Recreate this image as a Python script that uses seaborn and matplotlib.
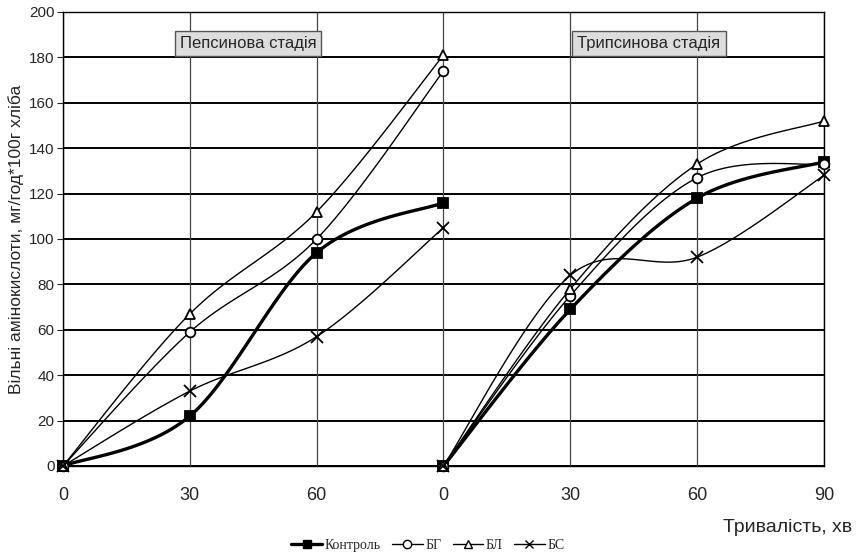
import numpy as np
import pandas as pd
import seaborn as sns
import matplotlib.pyplot as plt
from matplotlib.lines import Line2D

# x positions on a category axis: pepsin stage 0-3, trypsin stage 3-6
x_labels = ['0', '30', '60', '0', '30', '60', '90']
pep_x = [0, 1, 2, 3]
tryp_x = [3, 4, 5, 6]

series = ['Контроль', 'БГ', 'БЛ', 'БС']
pep_control = [0, 22, 94, 116]
pep_bg = [0, 59, 100, 174]
pep_bl = [0, 67, 112, 181]
pep_bs = [0, 33, 57, 105]
tryp_control = [0, 69, 118, 134]
tryp_bg = [0, 75, 127, 133]
tryp_bl = [0, 78, 133, 152]
tryp_bs = [0, 84, 92, 128]

pep = {'Контроль': pep_control, 'БГ': pep_bg, 'БЛ': pep_bl, 'БС': pep_bs}
tryp = {'Контроль': tryp_control, 'БГ': tryp_bg, 'БЛ': tryp_bl, 'БС': tryp_bs}

style = {
    'Контроль': dict(marker='s', lw=2.4, ms=7, mfc='black'),
    'БГ': dict(marker='o', lw=1.0, ms=7, mfc='white'),
    'БЛ': dict(marker='^', lw=1.0, ms=7, mfc='white'),
    'БС': dict(marker='x', lw=1.0, ms=8, mfc='white'),
}


def smooth(xs, ys, n=30):
    # Catmull-Rom style curve like Excel's "smoothed line"
    p = np.column_stack([xs, ys]).astype(float)
    p = np.vstack([p[0], p, p[-1]])
    out = []
    for i in range(1, len(p) - 2):
        p0, p1, p2, p3 = p[i - 1], p[i], p[i + 1], p[i + 2]
        c1 = p1 + (p2 - p0) / 6
        c2 = p2 - (p3 - p1) / 6
        t = np.linspace(0, 1, n)[:, None]
        seg = (1 - t) ** 3 * p1 + 3 * (1 - t) ** 2 * t * c1 + 3 * (1 - t) * t ** 2 * c2 + t ** 3 * p2
        out.append(seg)
    return np.vstack(out)


sns.set_style('white')
plt.rcParams['font.family'] = ['Liberation Sans', 'DejaVu Sans']

fig = plt.figure(figsize=(8.56, 5.58), dpi=100)
ax = fig.add_axes([0.0736, 0.1649, 0.889, 0.8136])

for y in range(0, 201, 20):
    ax.axhline(y, color='black', lw=1.4, zorder=1)
for x in range(7):
    ax.axvline(x, color='#444444', lw=0.9, zorder=1)

for name in series:
    st = style[name]
    for xs, ys in [(pep_x, pep[name]), (tryp_x, tryp[name])]:
        curve = pd.DataFrame(smooth(xs, ys), columns=['x', 'y'])
        sns.lineplot(data=curve, x='x', y='y', sort=False, estimator=None,
                     color='black', lw=st['lw'], ax=ax, zorder=3)
        ax.plot(xs, ys, ls='none', marker=st['marker'], ms=st['ms'],
                mfc=st['mfc'], mec='black', mew=1.3, zorder=4, clip_on=False)

ax.set_xlim(0, 6)
ax.set_ylim(0, 200)
ax.set_yticks(range(0, 201, 20))
ax.set_xticks(range(7))
ax.set_xticklabels(x_labels, fontsize=13)
ax.tick_params(axis='y', labelsize=11, length=4, pad=2, left=True)
ax.tick_params(axis='x', length=0, pad=15)
for s in ax.spines.values():
    s.set_color('black')
    s.set_linewidth(1.0)
ax.set_xlabel('')
ax.set_ylabel('Вільні амінокислоти, мг/год*100г хліба', fontsize=12.5, labelpad=4)

box = dict(boxstyle='square,pad=0.3', fc='#dddddd', ec='#555555', lw=1)
ax.text(1.46, 186, 'Пепсинова стадія', fontsize=12, ha='center', va='center', bbox=box, zorder=5)
ax.text(4.62, 186, 'Трипсинова стадія', fontsize=12, ha='center', va='center', bbox=box, zorder=5)

fig.text(0.995, 0.055, 'Тривалість, хв', fontsize=14, ha='right', va='center')

handles = [Line2D([], [], color='black', lw=style[n]['lw'], marker=style[n]['marker'],
                  ms=6, mfc=style[n]['mfc'], mec='black') for n in series]
fig.legend(handles, series, loc='center', bbox_to_anchor=(0.5, 0.022), ncol=4, frameon=False,
           prop={'family': 'Liberation Serif', 'size': 10}, handlelength=2.2,
           handletextpad=0.2, columnspacing=0.8)

fig.savefig('out.png', dpi=100)
